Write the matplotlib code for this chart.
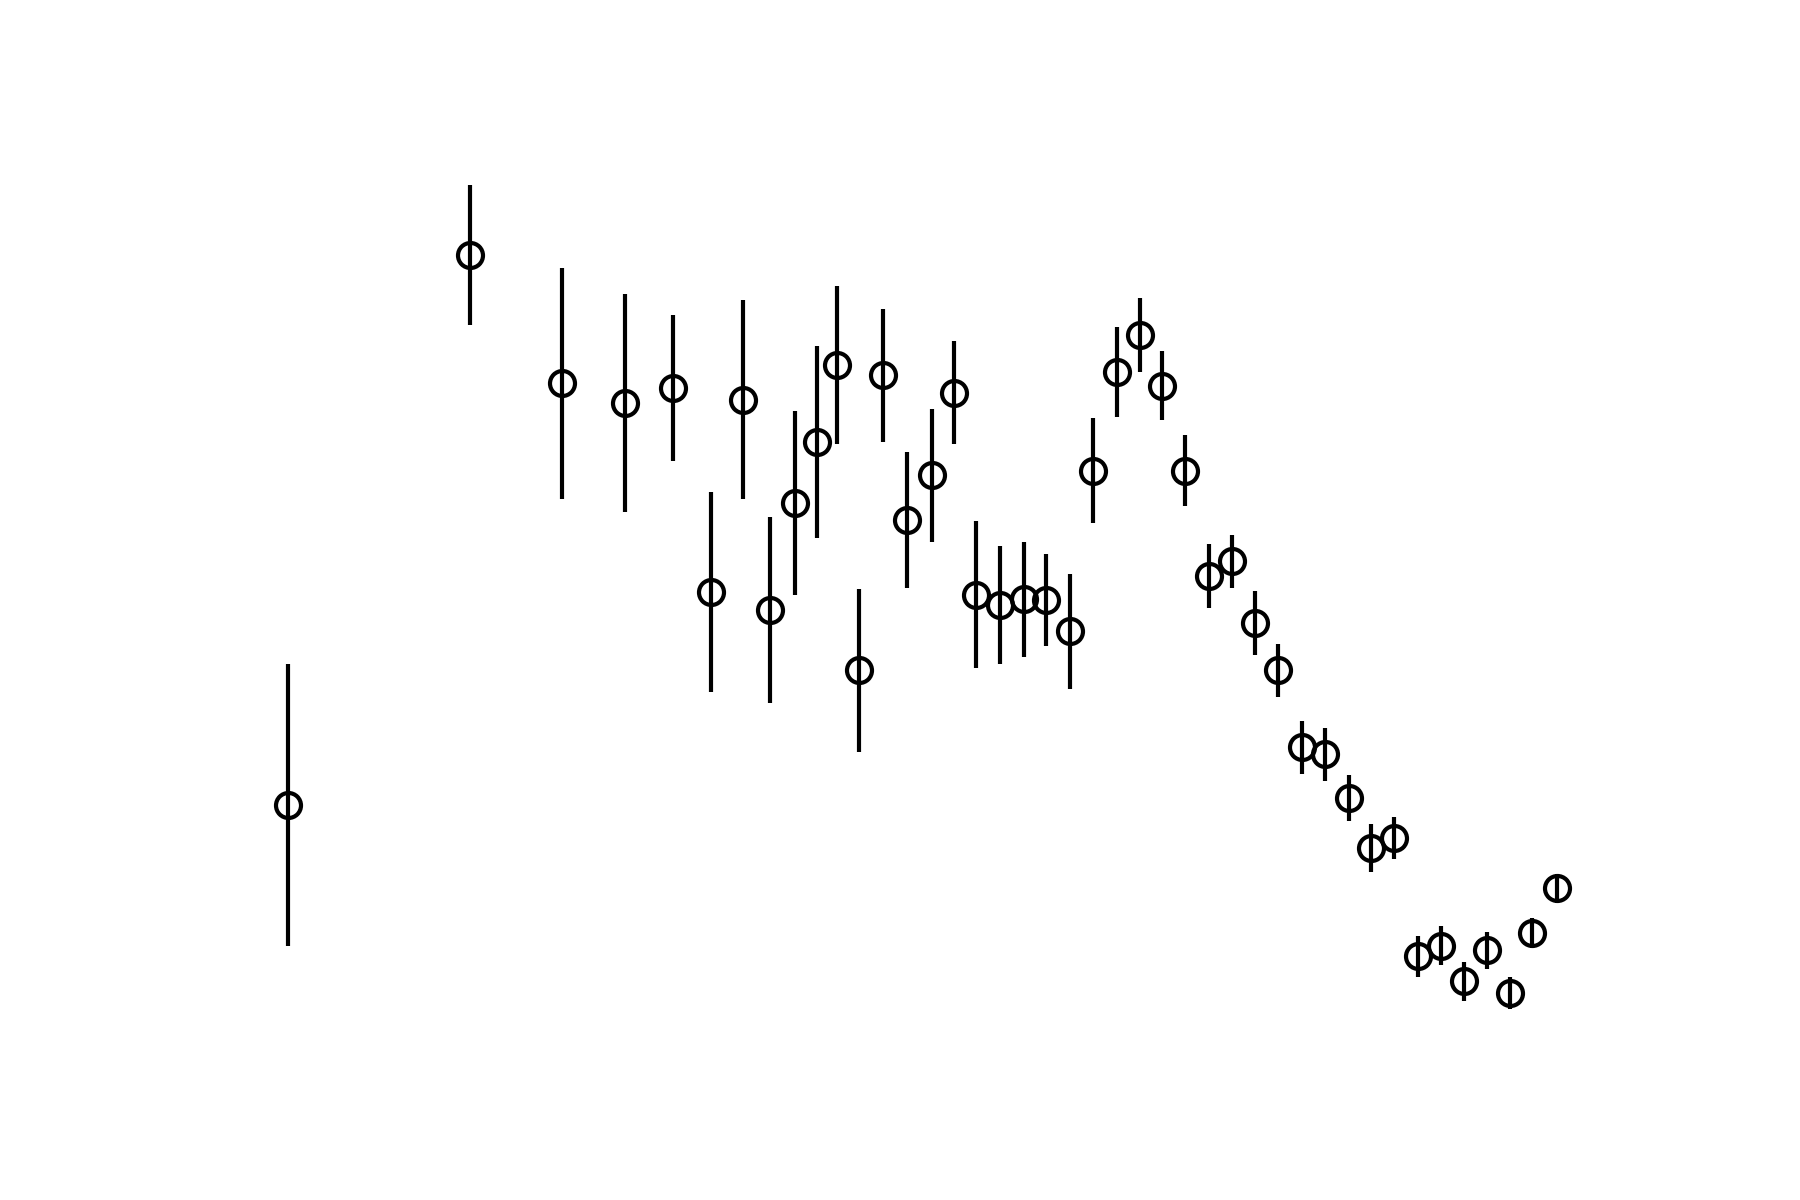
import matplotlib
matplotlib.use('Agg')
import matplotlib.pyplot as plt
import numpy as np

# positions along x (arbitrary units, no axes shown)
x = [251, 409, 489, 544, 586, 619, 647, 671, 692, 712,
     729, 748, 769, 790, 812, 831, 850, 871, 892, 911,
     932, 952, 973, 993, 1012, 1032, 1053, 1073, 1093, 1113,
     1134, 1154, 1175, 1194, 1214, 1235, 1255, 1275, 1295, 1315,
     1335, 1356]

# values (higher = further up)
y = [344, 823, 711, 694, 707, 529, 697, 514, 607, 660,
     727, 461, 718, 592, 631, 703, 527, 518, 523, 522,
     495, 635, 721, 753, 709, 635, 543, 556, 502, 461,
     394, 388, 350, 306, 315, 212, 221, 190, 217, 180,
     232, 271]

# symmetric errors
yerr = [123, 61, 101, 95, 64, 87, 87, 81, 80, 84,
        69, 71, 58, 59, 58, 45, 64, 51, 50, 40,
        50, 46, 39, 32, 30, 31, 28, 23, 28, 23,
        23, 23, 20, 21, 18, 18, 17, 17, 16, 14,
        13, 13]

fig = plt.figure(figsize=(6, 4), dpi=300)
ax = fig.add_subplot(111)

ax.errorbar(x, y, yerr=yerr, fmt='o', color='black', mfc='none',
            ms=6, mew=1, elinewidth=1)

ax.set_ylim(114.6, 919.6)
ax.axis('off')

plt.savefig('out.png', dpi=300)
